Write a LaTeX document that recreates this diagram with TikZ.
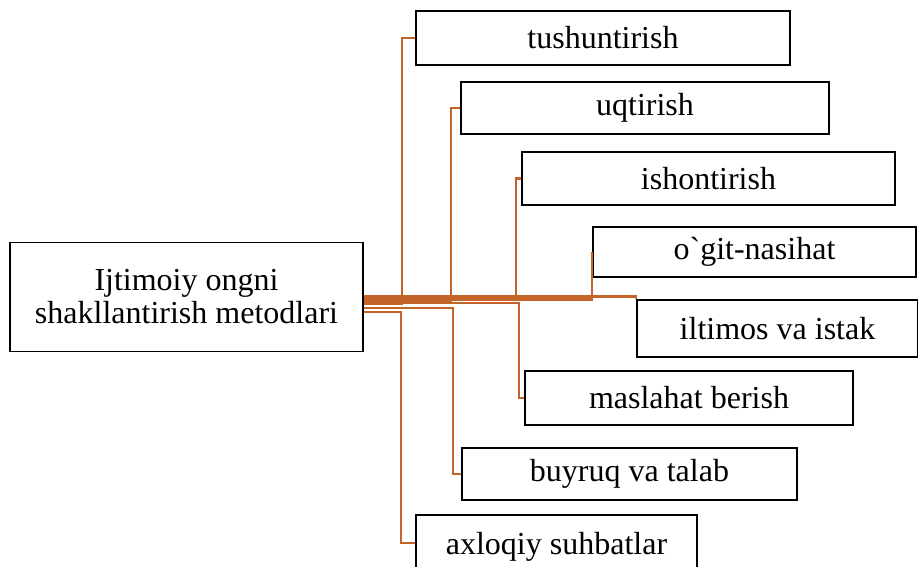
\documentclass[tikz,border=0pt]{standalone}
\usepackage{fontspec}
\setmainfont{Liberation Serif}
\usepackage{tikz}
\usetikzlibrary{calc}
\definecolor{linkbrown}{RGB}{197,100,40}

\begin{document}
\begin{tikzpicture}[x=1pt,y=-1pt,
                      box/.style={draw=black,line width=1.6pt,fill=white,inner sep=0pt,
                                  font=\fontsize{32}{33}\selectfont,align=center},
                      link/.style={draw=linkbrown,line width=2.4pt}]
                      \useasboundingbox (0,0) rectangle (918,566);
                      \node[box,minimum width=353,minimum height=109] (metod) at (186.5,297) {Ijtimoiy ongni\\shakllantirish metodlari};
                      \node[box,minimum width=374,minimum height=54] (tush) at (603,38) {tushuntirish};
                      \node[box,minimum width=368,minimum height=52] (uqt) at (645,108) {uqtirish};
                      \node[box,minimum width=373,minimum height=53] (ishon) at (708.5,178.5) {ishontirish};
                      \node[box,minimum width=323,minimum height=50] (ogit) at (754.5,252) {o\textasciigrave git-nasihat};
                      \node[box,minimum width=281,minimum height=57] (iltim) at (777.5,328.5) {iltimos va istak};
                      \node[box,minimum width=328,minimum height=54] (masl) at (689,398) {maslahat berish};
                      \node[box,minimum width=335,minimum height=52] (buyr) at (629.5,474) {buyruq va talab};
                      \node[box,minimum width=281,minimum height=56,text depth=0pt] (axl) at (556.5,543) {axloqiy suhbatlar};
                      % connectors
                      \draw[link] (metod.east |- 0,304) -| ([xshift=-13]tush.west) -- (tush.west);
                      \draw[link] (metod.east |- 0,312) -| ([xshift=-14]axl.west) -- (axl.west);
                      \draw[link] (metod.east |- 0,301) -| ([xshift=-9]uqt.west) -- (uqt.west);
                      \draw[link] (metod.east |- 0,308) -| ([xshift=-8]buyr.west) -- (buyr.west);
                      \draw[link] (metod.east |- 0,298) -| ([xshift=-5]ishon.west) -- (ishon.west);
                      \draw[link] (metod.east |- 0,303) -| ([xshift=-5]masl.west) -- (masl.west);
                      \draw[link] (metod.east |- 0,299.5) -| (ogit.west);
                      \draw[link] (metod.east |- 0,296.5) -| (iltim.north west);
                  \end{tikzpicture}
\end{document}
